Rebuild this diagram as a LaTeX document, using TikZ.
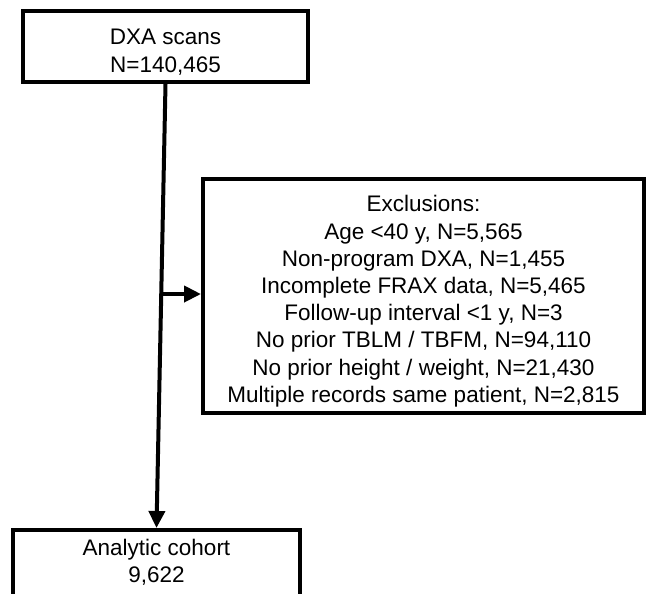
\documentclass[tikz,border=0pt]{standalone}
\usepackage{fontspec}
\setmainfont{Liberation Sans}
\usepackage{tikz}
\usetikzlibrary{arrows.meta,calc}

\tikzset{
    flowbox/.style={draw=black, line width=4pt, align=center, font=\fontsize{22.5}{27.2}\selectfont},
    flowline/.style={line width=4pt, -{Triangle[length=17pt,width=16pt]}}
}

\begin{document}
\begin{tikzpicture}[x=1pt, y=-1pt]
            \clip (0, 0) rectangle (646, 594);
            \useasboundingbox (0, 0) rectangle (646, 594);
            \node[flowbox, minimum width=285pt, minimum height=71pt] (dxa) at (165.5, 46.5) {\rule{0pt}{27pt}DXA scans\\[0.8pt]N=140,465};
            \node[flowbox, minimum width=441pt, minimum height=234pt] (excl) at (423.5, 296) {\rule{0pt}{27pt}Exclusions:\\Age <40 y, N=5,565\\Non-program DXA, N=1,455\\Incomplete FRAX data, N=5,465\\Follow-up interval <1 y, N=3\\No prior TBLM / TBFM, N=94,110\\No prior height / weight, N=21,430\\Multiple records same patient, N=2,815};
            \node[flowbox, minimum width=287pt, minimum height=90pt, anchor=north, inner sep=9pt] (cohort) at (156.5, 528) {Analytic cohort\\9,622\\ \strut};
            \draw[flowline] (dxa.south) -- (cohort.north);
            \coordinate (split) at ($(dxa.south)!0.473!(cohort.north)$);
            \draw[flowline] (split) -- (split -| excl.west);
        \end{tikzpicture}
\end{document}
